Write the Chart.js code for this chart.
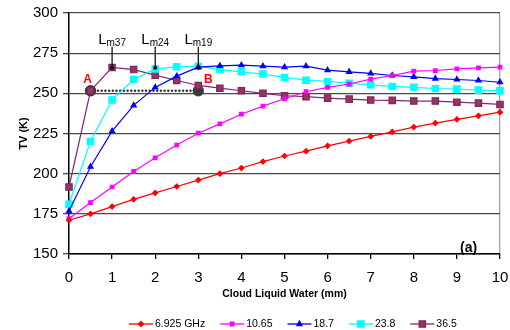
<!DOCTYPE html>
<html>
<head>
<meta charset="utf-8">
<script src="https://cdn.jsdelivr.net/npm/chart.js@4"></script>
<style>
  html, body { margin: 0; padding: 0; background: #fff; }
  #box { width: 510px; height: 330px; }
</style>
</head>
<body>
<div id="box"><canvas id="tvChart"></canvas></div>
<script>
// cloud liquid water (mm)
const clw = [0, 0.5, 1, 1.5, 2, 2.5, 3, 3.5, 4, 4.5, 5, 5.5, 6, 6.5, 7, 7.5, 8, 8.5, 9, 9.5, 10];

// TV (K) per frequency
const tv6 = [171, 175, 179.5, 184, 188, 192, 196, 200, 203.5, 207.5, 211, 214, 217.3, 220.3, 223.2, 226, 229, 231.5, 233.8, 236, 238.3];
const tv10 = [172, 182, 191.7, 201.4, 209.9, 217.8, 225.2, 231, 237, 242, 246.6, 251, 253.7, 255.8, 258.8, 261.1, 263.8, 264.2, 265.2, 265.8, 266.3];
const tv18 = [176.7, 204.3, 226.5, 242.5, 253.7, 260.7, 266.3, 267.1, 267.5, 266.9, 266.3, 266.9, 264.4, 263.4, 262.4, 261.1, 260.3, 259.2, 258.6, 258, 256.9];
const tv23 = [181, 220, 245.8, 258.6, 265.2, 266.5, 266.9, 264.8, 263.4, 262, 259.9, 258.2, 257.4, 256.3, 255.3, 254.3, 253.7, 253, 252.6, 252, 251.6];
const tv36 = [191.7, 251.6, 266.1, 264.8, 261.3, 258, 254.9, 253.2, 251.6, 250, 248.5, 247.9, 247, 246.4, 245.8, 245.6, 245.2, 245.2, 244.5, 243.9, 243.1];

const seriesNames = ['6.925 GHz', '10.65', '18.7', '23.8', '36.5'];

// annotation values
const abX = [0.5, 3];
const abY = 251.6;
const abNames = ['A', 'B'];
const lmX = [1, 2, 3];
const lmSub = ['m37', 'm24', 'm19'];
const lmTop = 279;
const lmBottom = 266;

const yTicks = [150, 175, 200, 225, 250, 275, 300];

function pts(ys) {
    return clw.map((x, i) => ({x: x, y: ys[i]}));
}

const FONT = "'Liberation Sans', Arial, sans-serif";

// legend drawn under the axis: line with marker in the middle
const lineLegend = {
    id: 'lineLegend',
    afterDraw(chart) {
        const {ctx} = chart;
        let x = 129;
        const y = 324;
        ctx.save();
        ctx.font = '10.5px ' + FONT;
        ctx.textBaseline = 'middle';
        chart.data.datasets.forEach((ds) => {
            if (ds.isNote) return;
            ctx.strokeStyle = ds.borderColor;
            ctx.lineWidth = 1.3;
            ctx.beginPath();
            ctx.moveTo(x, y);
            ctx.lineTo(x + 24, y);
            ctx.stroke();
            ctx.fillStyle = ds.pointBackgroundColor;
            ctx.strokeStyle = ds.pointBorderColor;
            Chart.helpers.drawPoint(ctx, {
                pointStyle: ds.pointStyle,
                radius: ds.pointRadius,
                rotation: 0,
                borderWidth: 1
            }, x + 12, y);
            ctx.fillStyle = '#000';
            ctx.fillText(ds.label, x + 26, y);
            x += 26 + ctx.measureText(ds.label).width + 15;
        });
        ctx.restore();
    }
};

// A/B labels, L markers and panel tag
const notes = {
    id: 'notes',
    afterDatasetsDraw(chart) {
        const {ctx, scales: {x, y}} = chart;
        ctx.save();
        // vertical markers
        lmX.forEach((v, i) => {
            const px = x.getPixelForValue(v);
            const top = y.getPixelForValue(lmTop);
            const bot = y.getPixelForValue(lmBottom);
            ctx.strokeStyle = '#000';
            ctx.lineWidth = 1.2;
            ctx.beginPath();
            ctx.moveTo(px, top);
            ctx.lineTo(px, bot);
            ctx.stroke();
            ctx.fillStyle = '#000';
            ctx.beginPath();
            ctx.arc(px, bot, 2, 0, Math.PI * 2);
            ctx.fill();
            ctx.font = '15px ' + FONT;
            const lw = ctx.measureText('L').width;
            ctx.font = '10px ' + FONT;
            const sw = ctx.measureText(lmSub[i]).width;
            const sx = px - (lw + sw) / 2;
            ctx.textBaseline = 'alphabetic';
            ctx.textAlign = 'left';
            ctx.font = '15px ' + FONT;
            ctx.fillText('L', sx, top - 3);
            ctx.font = '10px ' + FONT;
            ctx.fillText(lmSub[i], sx + lw, top - 1);
        });
        // A and B
        ctx.font = 'bold 12px ' + FONT;
        ctx.fillStyle = '#ff0000';
        ctx.textAlign = 'center';
        ctx.textBaseline = 'middle';
        abX.forEach((v, i) => {
            ctx.fillText(abNames[i], x.getPixelForValue(v) + (i === 0 ? -3 : 10), y.getPixelForValue(abY) - 11);
        });
        // panel tag
        ctx.font = 'bold 14px ' + FONT;
        ctx.fillStyle = '#000';
        ctx.fillText('(a)', x.getPixelForValue(9.27), y.getPixelForValue(153.7));
        ctx.restore();
    }
};

const ctx = document.getElementById('tvChart').getContext('2d');
const tvChart = new Chart(ctx, {
    type: 'line',
    data: {
        datasets: [
            {
                label: seriesNames[0], data: pts(tv6),
                borderColor: '#ff0000', pointBackgroundColor: '#ff0000', pointBorderColor: '#ff0000',
                pointStyle: 'rectRot', pointRadius: 2.5, borderWidth: 1.2
            },
            {
                label: seriesNames[1], data: pts(tv10),
                borderColor: '#ff00ff', pointBackgroundColor: '#ff00ff', pointBorderColor: '#ff00ff',
                pointStyle: 'rect', pointRadius: 2.5, borderWidth: 1.2
            },
            {
                label: seriesNames[2], data: pts(tv18),
                borderColor: '#0000ff', pointBackgroundColor: '#0000ff', pointBorderColor: '#0000ff',
                pointStyle: 'triangle', pointRadius: 3, borderWidth: 1.2
            },
            {
                label: seriesNames[3], data: pts(tv23),
                borderColor: '#00ffff', pointBackgroundColor: '#00ffff', pointBorderColor: '#00ffff',
                pointStyle: 'rect', pointRadius: 4.5, borderWidth: 1.2
            },
            {
                label: seriesNames[4], data: pts(tv36),
                borderColor: '#85237a', pointBackgroundColor: '#993366', pointBorderColor: '#7a2a5a',
                pointStyle: 'rect', pointRadius: 4.5, borderWidth: 1.2
            },
            {
                label: 'AB', isNote: true,
                data: abX.map(v => ({x: v, y: abY})),
                borderColor: '#333', borderWidth: 2.4, borderDash: [0.1, 3.6], borderCapStyle: 'round',
                pointBackgroundColor: '#3a3a3a', pointBorderColor: '#3a3a3a',
                pointStyle: 'circle', pointRadius: 4.5
            }
        ]
    },
    options: {
        responsive: true,
        maintainAspectRatio: false,
        animation: false,
        layout: {
            padding: {left: 0, right: 10, top: 13, bottom: 26}
        },
        elements: {
            line: {tension: 0},
            point: {borderWidth: 1}
        },
        datasets: {
            line: {clip: false}
        },
        scales: {
            x: {
                type: 'linear',
                min: 0,
                max: 10,
                afterFit(s) {
                    s.height = 50;
                    s.paddingLeft = 0;
                    s.paddingRight = 0;
                },
                ticks: {
                    stepSize: 1,
                    color: '#000',
                    padding: 10,
                    font: {family: FONT, size: 15}
                },
                grid: {
                    color: (c) => (c.tick && c.tick.value === 10) ? '#a0a0a0' : 'rgba(0,0,0,0)',
                    tickColor: '#000',
                    tickLength: 5,
                    lineWidth: 1.3
                },
                border: {color: '#000', width: 1.5},
                title: {
                    display: true,
                    text: 'Cloud Liquid Water (mm)',
                    color: '#000',
                    font: {family: FONT, size: 10.5, weight: 'bold'}
                }
            },
            y: {
                min: 150,
                max: 300,
                afterFit(s) {
                    s.width = 69;
                    s.paddingTop = 0;
                    s.paddingBottom = 0;
                },
                afterBuildTicks(s) { s.ticks = yTicks.map(v => ({value: v})); },
                ticks: {
                    color: '#000',
                    padding: 5,
                    font: {family: FONT, size: 15}
                },
                grid: {
                    color: '#4a4a4a',
                    tickColor: '#4a4a4a',
                    tickLength: 6,
                    lineWidth: 1.3
                },
                border: {color: '#000', width: 1.5},
                title: {
                    display: true,
                    text: 'TV (K)',
                    color: '#000',
                    padding: {top: 17, bottom: 0},
                    font: {family: FONT, size: 11, weight: 'bold'}
                }
            }
        },
        plugins: {
            legend: {display: false},
            tooltip: {enabled: false}
        }
    },
    plugins: [notes, lineLegend]
});
</script>
</body>
</html>
